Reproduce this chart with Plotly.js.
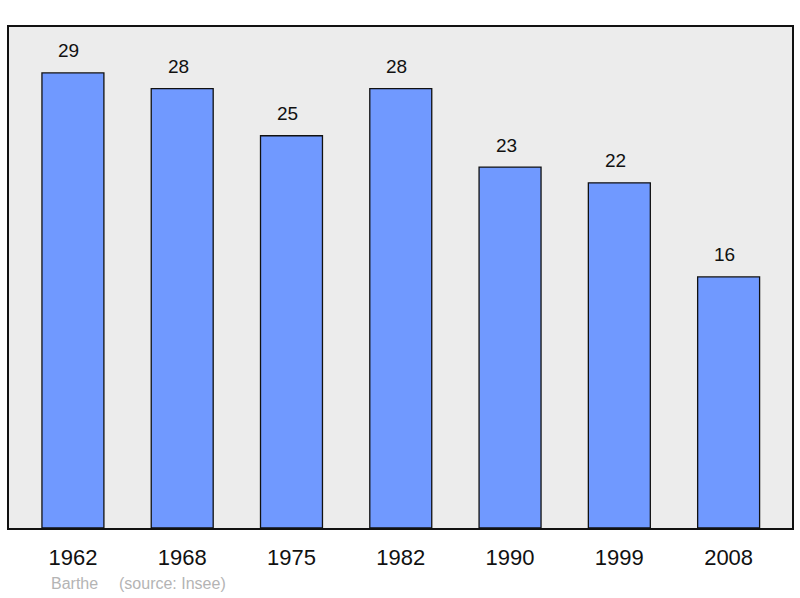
<!DOCTYPE html>
<html><head><meta charset="utf-8">
<script src="https://cdn.plot.ly/plotly-3.0.1.min.js"></script>
<style>body{margin:0;background:#fff}#c{width:800px;height:598px}</style>
</head><body><div id="c"></div>
<script>
const years = ['1962','1968','1975','1982','1990','1999','2008'];
const population = [29, 28, 25, 28, 23, 22, 16];
const place = 'Barthe';
const source = '(source: Insee)';

const valueLabels = years.map((y, i) => ({
  x: i, y: population[i], xref: 'x', yref: 'y',
  text: String(population[i]), showarrow: false,
  yanchor: 'middle', yshift: 22, xshift: -4,
  font: {size: 19, color: '#111'}
}));

Plotly.newPlot('c', [{
  type: 'bar',
  x: years,
  y: population,
  width: 0.567,
  marker: {color: '#7099ff', line: {color: '#111', width: 1.3}},
  hoverinfo: 'none'
}], {
  width: 800, height: 598,
  margin: {l: 9, r: 8, t: 27, b: 70},
  paper_bgcolor: '#ffffff',
  plot_bgcolor: '#ececec',
  font: {family: 'Liberation Sans, Arial, sans-serif'},
  showlegend: false,
  xaxis: {
    type: 'category',
    range: [-0.585, 6.58],
    showline: true, mirror: true, linecolor: '#111', linewidth: 2,
    showgrid: false, zeroline: false, ticks: '',
    tickfont: {size: 22, color: '#111'},
    ticklabelstandoff: 9
  },
  yaxis: {
    range: [0, 31.93],
    showline: true, mirror: true, linecolor: '#111', linewidth: 2,
    showgrid: false, zeroline: false, showticklabels: false, ticks: ''
  },
  annotations: valueLabels.concat([
    {xref: 'paper', yref: 'paper', x: 0.0511, y: 0, yshift: -55, xanchor: 'left', yanchor: 'middle',
     text: place, showarrow: false, font: {size: 16, color: '#b4b4b4'}},
    {xref: 'paper', yref: 'paper', x: 0.138, y: 0, yshift: -55, xanchor: 'left', yanchor: 'middle',
     text: source, showarrow: false, font: {size: 16, color: '#b4b4b4'}}
  ])
}, {staticPlot: true});
</script></body></html>
